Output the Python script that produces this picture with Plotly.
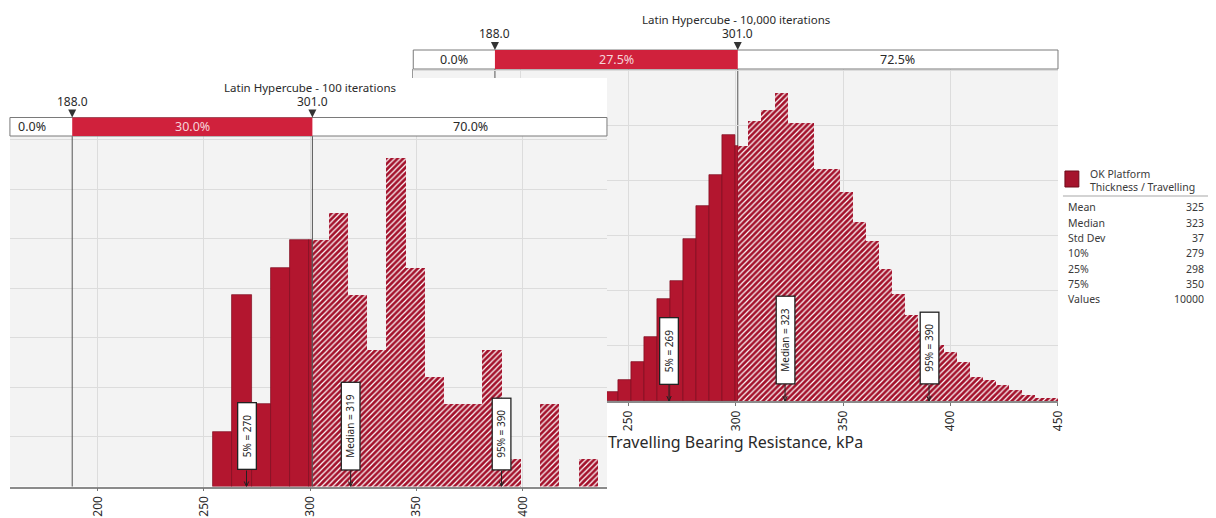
import plotly.graph_objects as go

# ---------------------------------------------------------------- data
# 100-iteration run (front chart)
front_bin_start = 254.3
front_bin_width = 9.05
front_counts = [2, 7, 3, 8, 9, 9, 10, 7, 5, 12, 8, 4, 3, 3, 5, 1, 0, 3, 0, 1]
front_iterations = 100

# 10,000-iteration run (back chart)
back_bin_start = 233.23
back_bin_width = 6.07
back_counts = [6, 20, 47, 86, 142, 225, 264, 357, 431, 498, 587, 563, 619, 643,
               680, 614, 614, 511, 511, 462, 394, 354, 291, 236, 189, 154, 123,
               108, 86, 53, 46, 35, 24, 13, 7, 7]
back_iterations = 10000

delimiters = [188.0, 301.0]
front_band_pct = ["0.0%", "30.0%", "70.0%"]
back_band_pct = ["0.0%", "27.5%", "72.5%"]

marker_names = ["5%", "Median", "95%"]
front_marker_values = [270, 319, 390]
back_marker_values = [269, 323, 390]

stat_names = ["Mean", "Median", "Std Dev", "10%", "25%", "75%", "Values"]
stat_values = [325, 323, 37, 279, 298, 350, 10000]

series_name = ["OK Platform", "Thickness / Travelling"]
front_title = "Latin Hypercube - 100 iterations"
back_title = "Latin Hypercube - 10,000 iterations"
x_title = "Travelling Bearing Resistance, kPa"

front_ticks = [200, 250, 300, 350, 400]
back_ticks = [150, 200, 250, 300, 350, 400, 450]
back_tick_text = ["", "", "250", "300", "350", "400", "450"]

# ---------------------------------------------------------------- style
W, H = 1216, 518
FONT = "Noto Sans"
SOLID = "#b3162f"
SOLID_EDGE = "#7e0c1e"
HATCH_BG = "#a3112b"
BAND_RED = "#d0213c"
PLOT_BG = "#f3f3f3"
GRID = "#dcdcdc"
TEXT = "#2a2a2a"
FULL_SPAN = [150, 450]          # full scale of both charts


def fx(px):
    return px / W


def fy(py):
    return 1 - py / H


def split_bins(start, width, counts, total, cut):
    """Probability-density bars, split into the part below and above `cut`."""
    solid = ([], [], [])
    hatch = ([], [], [])
    for i, c in enumerate(counts):
        lo = start + i * width
        hi = lo + width
        dens = c / (total * width)
        parts = []
        if hi <= cut:
            parts.append((solid, lo, hi))
        elif lo >= cut:
            parts.append((hatch, lo, hi))
        else:
            parts.append((solid, lo, cut))
            parts.append((hatch, cut, hi))
        for tgt, a, b in parts:
            tgt[0].append((a + b) / 2)
            tgt[1].append(b - a)
            tgt[2].append(dens)
    return solid, hatch


fig = go.Figure()


def add_hist(start, width, counts, total, xa, ya):
    solid, hatch = split_bins(start, width, counts, total, delimiters[1])
    fig.add_trace(go.Bar(
        x=solid[0], width=solid[1], y=solid[2], xaxis=xa, yaxis=ya,
        marker=dict(color=SOLID, line=dict(color=SOLID_EDGE, width=0.7)),
        showlegend=False, hoverinfo="skip"))
    fig.add_trace(go.Bar(
        x=hatch[0], width=hatch[1], y=hatch[2], xaxis=xa, yaxis=ya,
        marker=dict(color=HATCH_BG, line=dict(width=0),
                    pattern=dict(shape="/", fgcolor="#ffffff", bgcolor=HATCH_BG,
                                 size=4, solidity=0.3, fillmode="replace")),
        showlegend=False, hoverinfo="skip"))


# back chart first so the front chart sits on top of it
add_hist(back_bin_start, back_bin_width, back_counts, back_iterations, "x", "y")
add_hist(front_bin_start, front_bin_width, front_counts, front_iterations, "x2", "y2")

# ---------------------------------------------------------------- geometry (px)
BACK = dict(left=416, right=1065, top=69, base=401, band_top=50, title=19)
FRONT = dict(left=10, right=611, top=136, base=486.5, band_top=117.5, title=87)

axis_common = dict(showgrid=True, gridcolor=GRID, gridwidth=1, zeroline=False)
x_common = dict(axis_common, tickangle=-90, ticks="outside", ticklen=3,
                tickcolor="#777", showline=True, linecolor="#8a8a8a", linewidth=1.5,
                tickfont=dict(family=FONT, size=12, color=TEXT), tickmode="array")
y_common = dict(axis_common, showticklabels=False, ticks="", tick0=0, dtick=0.002)

fig.update_layout(
    width=W, height=H, autosize=False,
    margin=dict(l=0, r=0, t=0, b=0),
    paper_bgcolor="white", plot_bgcolor=PLOT_BG,
    barmode="overlay", bargap=0,
    font=dict(family=FONT, color=TEXT),
    xaxis=dict(x_common, domain=[fx(BACK["left"]), fx(BACK["right"])],
               range=FULL_SPAN, anchor="y", tickvals=back_ticks, ticktext=back_tick_text,
               title=dict(text=x_title, font=dict(family=FONT, size=16, color=TEXT),
                          standoff=4)),
    yaxis=dict(y_common, domain=[fy(BACK["base"]), fy(BACK["top"])],
               range=[0, 0.01207], anchor="x", showline=True, linecolor="#9a9a9a",
               linewidth=1),
    xaxis2=dict(x_common, domain=[fx(FRONT["left"]), fx(FRONT["right"])],
                range=[158.7, 439.6], anchor="y2", tickvals=front_ticks,
                ticktext=[str(t) for t in front_ticks]),
    yaxis2=dict(y_common, domain=[fy(FRONT["base"]), fy(FRONT["top"])],
                range=[0, 0.01415], anchor="x2"),
)

shapes = []
annotations = []


def band(panel, xa, pct, layer_lines):
    band_y0 = fy(panel["top"])
    band_y1 = fy(panel["band_top"])
    # delimiter lines
    for d in delimiters:
        shapes.append(dict(type="line", xref=xa, yref="paper", x0=d, x1=d,
                           y0=fy(panel["base"]), y1=band_y1,
                           line=dict(color="#555555", width=1), layer=layer_lines))
    # percentage band
    shapes.append(dict(type="rect", xref=f"{xa} domain", yref="paper", x0=0, x1=1,
                       y0=band_y0, y1=band_y1, fillcolor="white",
                       line=dict(color="#7a7a7a", width=1), layer="above"))
    shapes.append(dict(type="rect", xref=xa, yref="paper", x0=delimiters[0],
                       x1=delimiters[1], y0=band_y0, y1=band_y1, fillcolor=BAND_RED,
                       line=dict(width=0), layer="above"))
    # delimiter triangles and values
    for d in delimiters:
        shapes.append(dict(type="path", xref=xa, yref="paper", xsizemode="pixel",
                           ysizemode="pixel", xanchor=d, yanchor=band_y1,
                           path="M-4,8 L4,8 L0,0 Z", fillcolor="#333333",
                           line=dict(width=0), layer="above"))
        annotations.append(dict(x=d, y=band_y1, xref=xa, yref="paper", yshift=6,
                                text=f"{d:.1f}", showarrow=False, xanchor="center",
                                yanchor="bottom",
                                font=dict(family=FONT, size=12, color=TEXT)))
    edges = [FULL_SPAN[0]] + delimiters + [FULL_SPAN[1]]
    for i, p in enumerate(pct):
        annotations.append(dict(x=(edges[i] + edges[i + 1]) / 2,
                                y=(band_y0 + band_y1) / 2, xref=xa, yref="paper",
                                text=p, showarrow=False, xanchor="center",
                                yanchor="middle",
                                font=dict(family=FONT, size=12.5,
                                          color="#f6d3d9" if i == 1 else TEXT)))


def title(panel, xa, text):
    annotations.append(dict(x=300, y=fy(panel["title"]), xref=xa, yref="paper",
                            text=text, showarrow=False, xanchor="center",
                            yanchor="middle",
                            font=dict(family=FONT, size=11.5, color=TEXT)))


def markers(xa, ya, values):
    for name, v in zip(marker_names, values):
        # pointer from the label down to the axis
        shapes.append(dict(type="path", xref=xa, yref=ya, xsizemode="pixel",
                           ysizemode="pixel", xanchor=v, yanchor=0,
                           path="M0,0 L0,16 M-2.2,5 L0,0 L2.2,5",
                           line=dict(color="#222222", width=1), layer="above"))
        annotations.append(dict(
            x=v, y=0, xref=xa, yref=ya, text=f"\u2003{name} = {v}\u2003",
            textangle=-90, showarrow=False, yshift=16, xanchor="center",
            yanchor="bottom", bgcolor="white", bordercolor="#222222",
            borderwidth=1.3, borderpad=1.5,
            font=dict(family=FONT, size=10, color="#222222")))


# back chart decorations
band(BACK, "x", back_band_pct, "below")
title(BACK, "x", back_title)
markers("x", "y", back_marker_values)

# white frame of the front chart covering the back chart above its plot area
shapes.append(dict(type="rect", xref="paper", yref="paper", x0=0, x1=fx(FRONT["right"]),
                   y0=fy(FRONT["top"]), y1=fy(78), fillcolor="white",
                   line=dict(width=0), layer="above"))

# front chart decorations
band(FRONT, "x2", front_band_pct, "above")
title(FRONT, "x2", front_title)
markers("x2", "y2", front_marker_values)

# ---------------------------------------------------------------- legend / statistics
shapes.append(dict(type="rect", xref="paper", yref="paper", x0=fx(1072), x1=fx(1086),
                   y0=fy(187), y1=fy(171), fillcolor="#a5142d",
                   line=dict(color="#6f0a1b", width=1), layer="above"))
for i, line in enumerate(series_name):
    annotations.append(dict(x=fx(1095), y=fy(174 + 12.5 * i), xref="paper", yref="paper",
                            text=line, showarrow=False, xanchor="left", yanchor="middle",
                            font=dict(family=FONT, size=10.5, color="#3a3a3a")))
shapes.append(dict(type="line", xref="paper", yref="paper", x0=fx(1070), x1=fx(1216),
                   y0=fy(196), y1=fy(196), line=dict(color="#c4c4c4", width=1.5),
                   layer="above"))
for i, (n, v) in enumerate(zip(stat_names, stat_values)):
    y = fy(207.5 + 15.3 * i)
    annotations.append(dict(x=fx(1073), y=y, xref="paper", yref="paper", text=n,
                            showarrow=False, xanchor="left", yanchor="middle",
                            font=dict(family=FONT, size=10.5, color="#3a3a3a")))
    annotations.append(dict(x=fx(1214), y=y, xref="paper", yref="paper", text=str(v),
                            showarrow=False, xanchor="right", yanchor="middle",
                            font=dict(family=FONT, size=10.5, color="#3a3a3a")))

fig.update_layout(shapes=shapes, annotations=annotations)

fig.write_html("out.html", config={"displayModeBar": False})
